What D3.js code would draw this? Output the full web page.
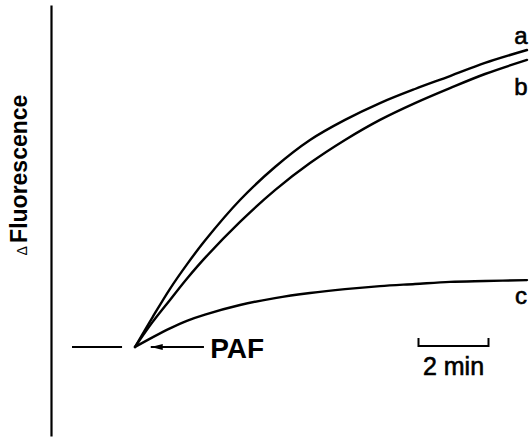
<!DOCTYPE html>
<html>
<head>
<meta charset="utf-8">
<script src="https://cdn.jsdelivr.net/npm/d3@7"></script>
<style>
  html, body { margin: 0; padding: 0; background: #fff; }
  svg { display: block; }
  text { font-family: "Liberation Sans", Arial, Helvetica, sans-serif; fill: #000; }
</style>
</head>
<body>
<svg id="chart" width="532" height="438"></svg>
<script>
// Time after PAF addition (min)
const times = [0, 0.5, 1, 1.5, 2, 3, 4, 5, 6, 7, 8, 9, 10, 11.2];
// Change in fluorescence (arbitrary units) for traces a, b, c
const traceA = [0, 9.9, 19.4, 27.8, 35.5, 49, 60, 69, 75.7, 81.3, 86, 90.3, 94.7, 99];
const traceB = [0, 8.3, 15.7, 23, 29.7, 41.7, 52.3, 61.3, 69, 75.7, 81.3, 86.3, 91, 95.7];
const traceC = [0, 3.2, 6.2, 8.8, 10.8, 14, 16.3, 18, 19.3, 20.3, 21, 21.7, 22, 22.3];
const traceLabels = ["a", "b", "c"];
// Resting baseline before stimulation (min)
const baselineTimes = [-1.8, -0.37];
// Scale bar length (min)
const scaleBarMinutes = 2;
const scaleBarStart = 8.1;

const svg = d3.select("#chart");

const x = d3.scaleLinear().domain([0, 11.2]).range([135, 527]);
const y = d3.scaleLinear().domain([0, 100]).range([347, 47]);

// Ordinate: bare vertical axis without ticks
const yAxisScale = d3.scaleLinear().domain([0, 1]).range([436, 5]);
svg.append("g")
  .attr("transform", "translate(51,0)")
  .call(d3.axisLeft(yAxisScale).ticks(0).tickSizeOuter(0))
  .call(g => g.select(".domain").attr("stroke", "#000").attr("stroke-width", 2.2));

// Axis title
const title = svg.append("text")
  .attr("transform", "translate(27,175) rotate(-90)")
  .attr("text-anchor", "middle");
title.append("tspan").attr("font-size", 14).text("\u0394 ");
title.append("tspan").attr("font-size", 23).attr("font-weight", "bold").text("Fluorescence");

// Baseline before PAF
svg.append("line")
  .attr("x1", x(baselineTimes[0])).attr("x2", x(baselineTimes[1]))
  .attr("y1", y(0)).attr("y2", y(0))
  .attr("stroke", "#000").attr("stroke-width", 2);

// Traces
const line = d3.line()
  .x((d, i) => x(times[i]))
  .y(d => y(d))
  .curve(d3.curveCatmullRom.alpha(0.5));

const traces = [traceA, traceB, traceC];
svg.append("g").selectAll("path")
  .data(traces)
  .join("path")
  .attr("d", line)
  .attr("fill", "none")
  .attr("stroke", "#000")
  .attr("stroke-width", 2.4)
  .attr("stroke-linecap", "round");

// Trace labels
const labelOffsets = [-6, 35, 24];
svg.append("g").selectAll("text")
  .data(traces)
  .join("text")
  .attr("x", 521)
  .attr("y", (d, i) => y(d[d.length - 1]) + labelOffsets[i])
  .attr("text-anchor", "middle")
  .attr("font-size", 24)
  .attr("stroke", "#000").attr("stroke-width", 0.6)
  .text((d, i) => traceLabels[i]);

// PAF addition arrow
svg.append("defs").append("marker")
  .attr("id", "head")
  .attr("viewBox", "0 0 12 6")
  .attr("refX", 0).attr("refY", 3)
  .attr("markerWidth", 12).attr("markerHeight", 6)
  .attr("markerUnits", "userSpaceOnUse")
  .attr("orient", "auto")
  .append("path").attr("d", "M0,3L12,0L12,6Z").attr("fill", "#000");

svg.append("line")
  .attr("x1", x(0.45)).attr("x2", x(1.97))
  .attr("y1", y(0)).attr("y2", y(0))
  .attr("stroke", "#000").attr("stroke-width", 2)
  .attr("marker-start", "url(#head)");

svg.append("text")
  .attr("x", x(2.15)).attr("y", y(0) + 11)
  .attr("font-size", 28).attr("font-weight", "bold")
  .text("PAF");

// Time scale bar
const sb = svg.append("g");
const sx0 = x(scaleBarStart), sx1 = x(scaleBarStart + scaleBarMinutes), sy = 346;
sb.append("path")
  .attr("d", `M${sx0},${sy - 8}V${sy}H${sx1}V${sy - 8}`)
  .attr("fill", "none").attr("stroke", "#000").attr("stroke-width", 2);
sb.append("text")
  .attr("x", (sx0 + sx1) / 2).attr("y", sy + 29)
  .attr("text-anchor", "middle")
  .attr("font-size", 25)
  .attr("stroke", "#000").attr("stroke-width", 0.6)
  .text("2 min");
</script>
</body>
</html>
